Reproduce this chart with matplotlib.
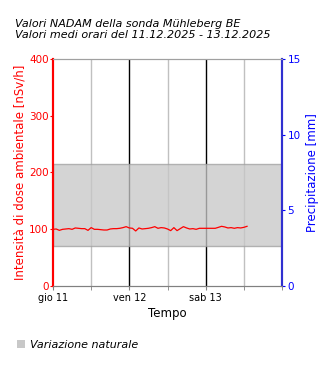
import matplotlib
matplotlib.use("Agg")
import matplotlib.pyplot as plt
from matplotlib.patches import Patch

# hourly mean dose rate [nSv/h], starting 11.12.2025 00:00
hours = list(range(62))
dose = [99.8, 100.4, 98.0, 99.8, 100.4, 101.0, 99.8, 102.2, 101.6, 101.0,
        101.0, 98.0, 102.8, 99.8, 99.8, 99.2, 98.6, 98.6, 100.4, 101.0,
        101.0, 101.6, 102.8, 104.5, 102.2, 101.6, 96.9, 102.2, 100.4, 101.0,
        101.6, 102.8, 104.5, 101.6, 102.8, 102.2, 100.4, 97.5, 102.8, 97.5,
        101.0, 104.5, 102.2, 100.4, 101.0, 99.8, 101.6, 101.6, 101.6, 101.6,
        101.6, 101.6, 103.3, 105.1, 104.0, 102.2, 102.8, 101.6, 102.8, 102.2,
        103.3, 105.1]
band_low, band_high = 70, 215
day_ticks = [0, 24, 48]
day_labels = ["gio 11", "ven 12", "sab 13"]
half_ticks = [12, 36, 60, 72]

fig = plt.figure(figsize=(3.3, 3.7), dpi=100)
ax = fig.add_axes([0.1606, 0.227, 0.694, 0.614])
ax2 = ax.twinx()

# grid
for h in half_ticks[:-1]:
    ax.axvline(h, color="#c0c0c0", lw=1, zorder=0)
for h in day_ticks[1:]:
    ax.axvline(h, color="black", lw=1, zorder=0)

ax.axhspan(band_low, band_high, facecolor=(0.78, 0.78, 0.78), alpha=0.77,
           edgecolor="#a0a0a0", lw=1, zorder=1)
ax.plot(hours, dose, color="red", lw=0.9, zorder=3)

ax.set_xlim(0, 72)
ax.set_ylim(0, 400)
ax.set_yticks([0, 100, 200, 300, 400])
ax.set_xticks(day_ticks)
ax.set_xticklabels(day_labels)
ax.set_xticks(half_ticks, minor=True)
ax.tick_params(axis="x", which="both", length=3, color="#808080",
               labelsize=7, pad=2)
ax.tick_params(axis="y", colors="red", labelsize=7.5, length=2, pad=1)
ax.set_ylabel("Intensità di dose ambientale [nSv/h]", color="red",
              fontsize=8.5, labelpad=2)
ax.set_xlabel("Tempo", fontsize=8.5, labelpad=3)

ax2.set_ylim(0, 15)
ax2.set_yticks([0, 5, 10, 15])
ax2.tick_params(axis="y", colors="blue", labelsize=7.5, length=2, pad=2)
ax2.set_ylabel("Precipitazione [mm]", color="blue", fontsize=8.5, labelpad=4)

for a in (ax, ax2):
    a.spines["top"].set_color("#a0a0a0")
    a.spines["bottom"].set_color("#808080")
    a.spines["left"].set_color("red")
    a.spines["left"].set_linewidth(1.5)
    a.spines["right"].set_color("#3030d0")
    a.spines["right"].set_linewidth(1.5)

fig.text(0.045, 0.935, "Valori NADAM della sonda Mühleberg BE",
         fontsize=8, style="italic", va="center")
fig.text(0.045, 0.905, "Valori medi orari del 11.12.2025 - 13.12.2025",
         fontsize=8, style="italic", va="center")

fig.legend(handles=[Patch(facecolor="#c8c8c8", edgecolor="none",
                          label="Variazione naturale")],
           loc="center left", bbox_to_anchor=(0.02, 0.068), frameon=False,
           prop={"size": 8, "style": "italic"}, handlelength=0.8,
           handleheight=0.8, handletextpad=0.4)

fig.savefig("out.png", dpi=100)
